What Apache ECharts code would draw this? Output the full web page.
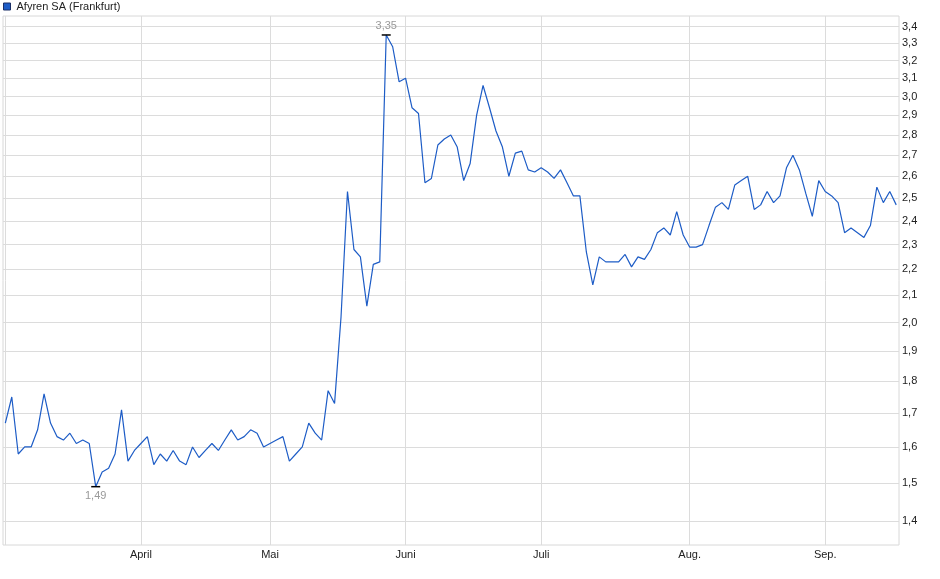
<!DOCTYPE html>
<html><head><meta charset="utf-8">
<script src="https://cdn.jsdelivr.net/npm/echarts@6/dist/echarts.min.js"></script>
<style>html,body{margin:0;padding:0;background:#fff}#c{width:940px;height:579px}</style>
</head><body><div id="c"></div>
<script>
const seriesName = 'Afyren SA (Frankfurt)';
// daily closing prices, one per trading day (3 Mar – 16 Sep)
const prices = [
  1.67,1.75,1.58,1.60,1.60,1.65,1.76,1.67,1.63,1.62,
  1.64,1.61,1.62,1.61,1.49,1.53,1.54,1.58,1.71,1.56,
  1.59,1.61,1.63,1.55,1.58,1.56,1.59,1.56,1.55,1.60,
  1.57,1.59,1.61,1.59,1.62,1.65,1.62,1.63,1.65,1.64,
  1.60,1.61,1.62,1.63,1.56,1.58,1.60,1.67,1.64,1.62,
  1.77,1.73,2.02,2.53,2.28,2.25,2.06,2.22,2.23,3.35,
  3.28,3.08,3.10,2.94,2.91,2.57,2.59,2.75,2.78,2.80,
  2.74,2.58,2.66,2.90,3.06,2.94,2.82,2.74,2.60,2.71,
  2.72,2.63,2.62,2.64,2.62,2.59,2.63,2.57,2.51,2.51,
  2.27,2.14,2.25,2.23,2.23,2.23,2.26,2.21,2.25,2.24,
  2.28,2.35,2.37,2.34,2.44,2.34,2.29,2.29,2.30,2.38,
  2.46,2.48,2.45,2.56,2.58,2.60,2.45,2.47,2.53,2.48,
  2.51,2.64,2.70,2.63,2.52,2.42,2.58,2.53,2.51,2.48,
  2.35,2.37,2.35,2.33,2.38,2.55,2.48,2.53,2.47
];
const monthNames = ['März','April','Mai','Juni','Juli','Aug.','Sep.'];
const monthStartIdx = [0,21,41,62,83,106,127];
const yTicks = [1.4,1.5,1.6,1.7,1.8,1.9,2.0,2.1,2.2,2.3,2.4,2.5,2.6,2.7,2.8,2.9,3.0,3.1,3.2,3.3,3.4];
const yRange = [1.342, 3.466];
const xRange = [-0.36, 138.43];

const L = Math.log;
const data = prices.map((v, i) => [i, L(v)]);
const comma = (v, d) => v.toFixed(d).replace('.', ',');
const font = '"Liberation Sans", Arial, sans-serif';

const chart = echarts.init(document.getElementById('c'), null, {renderer: 'canvas'});
chart.setOption({
  animation: false,
  textStyle: {fontFamily: font},
  legend: {
    left: 2, top: 0, padding: [1, 1],
    icon: 'rect', itemWidth: 7, itemHeight: 7, itemGap: 6,
    textStyle: {fontSize: 11, color: '#222', fontFamily: font, padding: [0, 0, 0, 1]},
    itemStyle: {borderColor: '#1a2f66', borderWidth: 1},
    data: [seriesName]
  },
  grid: {
    left: 3, right: 41, top: 16, bottom: 34,
    show: true, borderColor: '#d8d8d8', borderWidth: 1,
    outerBoundsMode: 'none', containLabel: false
  },
  xAxis: {
    type: 'value', min: xRange[0], max: xRange[1],
    axisLine: {show: false},
    axisTick: {show: false, customValues: monthStartIdx},
    splitLine: {show: true, lineStyle: {color: '#dcdcdc', width: 1}},
    axisLabel: {
      customValues: monthStartIdx.slice(1),
      formatter: v => monthNames[monthStartIdx.indexOf(Math.round(v))] || '',
      fontSize: 11, color: '#222', margin: 4, fontFamily: font
    }
  },
  yAxis: {
    type: 'value', position: 'right', min: L(yRange[0]), max: L(yRange[1]),
    axisLine: {show: false},
    axisTick: {show: false, customValues: yTicks.map(L)},
    splitLine: {show: true, lineStyle: {color: '#dcdcdc', width: 1}},
    axisLabel: {
      customValues: yTicks.map(L),
      formatter: v => comma(Math.exp(v), 1),
      fontSize: 11, color: '#222', margin: 3, fontFamily: font
    }
  },
  series: [{
    name: seriesName, type: 'line', data: data,
    showSymbol: false, symbol: 'none',
    color: '#1d5cc6',
    lineStyle: {width: 1.2, color: '#1d5cc6'},
    markPoint: {
      symbol: 'rect', symbolSize: [9, 1.5],
      itemStyle: {color: '#000'},
      label: {
        show: true, color: '#999', fontSize: 11, fontFamily: font,
        formatter: p => comma(Math.exp(p.value), 2)
      },
      data: [
        {type: 'max', label: {position: 'top', distance: 3}},
        {type: 'min', label: {position: 'bottom', distance: 3}}
      ]
    }
  }]
});
</script>
</body></html>
